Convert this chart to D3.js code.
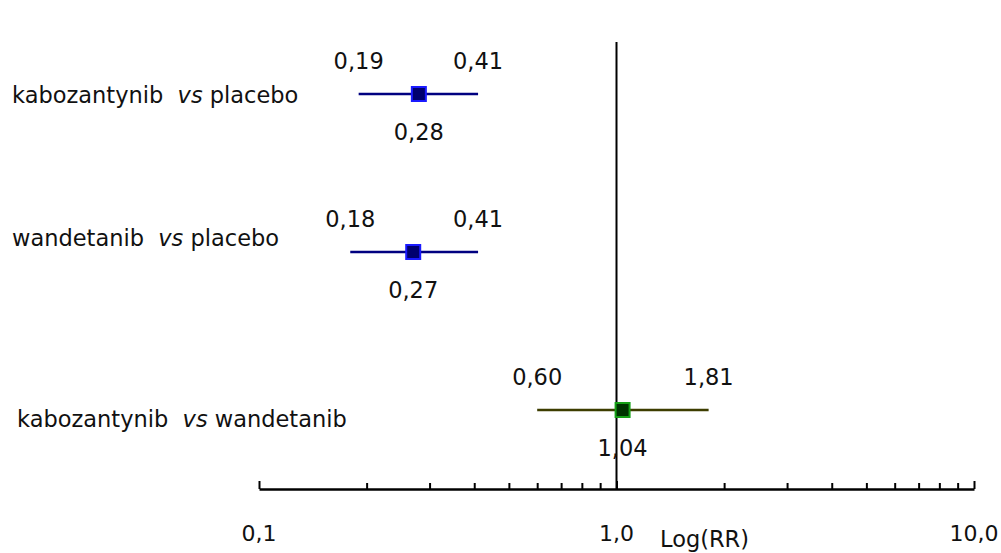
<!DOCTYPE html>
<html>
<head>
<meta charset="utf-8">
<script src="https://cdn.jsdelivr.net/npm/d3@7"></script>
<style>
  html, body { margin: 0; padding: 0; background: #fff; }
  svg { display: block; }
  text { font-family: "DejaVu Sans", "Noto Sans", sans-serif; fill: #111; }
</style>
</head>
<body>
<div id="chart"></div>
<script>
const comparisons = [
    ['kabozantynib', 'placebo'],
    ['wandetanib', 'placebo'],
    ['kabozantynib', 'wandetanib']
];
const rr = [0.28, 0.27, 1.04];
const lower = [0.19, 0.18, 0.60];
const upper = [0.41, 0.41, 1.81];
const axisTicks = [0.1, 1, 10];
const minorTicks = [0.2, 0.3, 0.4, 0.5, 0.6, 0.7, 0.8, 0.9, 2, 3, 4, 5, 6, 7, 8, 9];
const axisTitle = 'Log(RR)';

const width = 1001, height = 553;
const axisY = 489;
const lineColor = ['#000080', '#000080', '#3d3d00'];
const boxFill = ['#00006e', '#00006e', '#003300'];
const boxStroke = ['#1a1aff', '#1a1aff', '#16a016'];
// row labels are not aligned to the lines in the original
const labelDx = [12, 12, 17];
const labelDy = [9, -6, 17];

const comma = f => v => d3.format(f)(v).replace('.', ',');

const svg = d3.select('#chart')
    .append('svg')
    .attr('width', width)
    .attr('height', height);

const x = d3.scaleLog()
    .domain([0.1, 10])
    .range([259, 974]);

const y = d3.scalePoint()
    .domain(d3.range(rr.length))
    .range([94, 410]);

// reference line at RR = 1
svg.append('line')
    .attr('x1', x(1)).attr('x2', x(1))
    .attr('y1', 42).attr('y2', axisY)
    .attr('stroke', '#000')
    .attr('stroke-width', 2);

// axis: minor ticks, then major ticks + domain
const minorAxis = svg.append('g')
    .attr('transform', `translate(0,${axisY})`)
    .call(d3.axisTop(x).tickValues(minorTicks).tickSize(6).tickFormat(''));
minorAxis.select('.domain').remove();
minorAxis.selectAll('line').attr('stroke', '#000').attr('stroke-width', 2);

const majorAxis = svg.append('g')
    .attr('transform', `translate(0,${axisY})`)
    .call(d3.axisTop(x).tickValues(axisTicks).tickSize(8).tickSizeOuter(0).tickFormat(''));
majorAxis.select('.domain').attr('stroke', '#000').attr('stroke-width', 2.5);
majorAxis.selectAll('line').attr('stroke', '#000').attr('stroke-width', 2);

svg.append('g')
    .selectAll('text')
    .data(axisTicks)
    .join('text')
    .attr('x', d => x(d))
    .attr('y', 541)
    .attr('text-anchor', 'middle')
    .attr('font-size', 22)
    .text(comma('.1f'));

svg.append('text')
    .attr('x', 660)
    .attr('y', 547)
    .attr('font-size', 22.5)
    .text(axisTitle);

// rows
const row = svg.append('g')
    .selectAll('g')
    .data(rr.map((v, i) => ({ i, v, lo: lower[i], hi: upper[i] })))
    .join('g');

row.append('line')
    .attr('x1', d => x(d.lo))
    .attr('x2', d => x(d.hi))
    .attr('y1', d => y(d.i))
    .attr('y2', d => y(d.i))
    .attr('stroke', d => lineColor[d.i])
    .attr('stroke-width', 2.5);

row.append('rect')
    .attr('x', d => x(d.v) - 7)
    .attr('y', d => y(d.i) - 7)
    .attr('width', 14)
    .attr('height', 14)
    .attr('fill', d => boxFill[d.i])
    .attr('stroke', d => boxStroke[d.i])
    .attr('stroke-width', 2);

row.append('text')
    .attr('x', d => x(d.lo))
    .attr('y', d => y(d.i) - 25)
    .attr('text-anchor', 'middle')
    .attr('font-size', 22.5)
    .text(d => comma('.2f')(d.lo));

row.append('text')
    .attr('x', d => x(d.hi))
    .attr('y', d => y(d.i) - 25)
    .attr('text-anchor', 'middle')
    .attr('font-size', 22.5)
    .text(d => comma('.2f')(d.hi));

row.append('text')
    .attr('x', d => x(d.v))
    .attr('y', d => y(d.i) + 46)
    .attr('text-anchor', 'middle')
    .attr('font-size', 22.5)
    .text(d => comma('.2f')(d.v));

const label = row.append('text')
    .attr('x', d => labelDx[d.i])
    .attr('y', d => y(d.i) + labelDy[d.i])
    .attr('font-size', 22.5)
    .attr('xml:space', 'preserve')
    .style('white-space', 'pre');
label.append('tspan').text(d => comparisons[d.i][0] + '  ');
label.append('tspan').attr('font-style', 'italic').text('vs');
label.append('tspan').text(d => ' ' + comparisons[d.i][1]);
</script>
</body>
</html>
